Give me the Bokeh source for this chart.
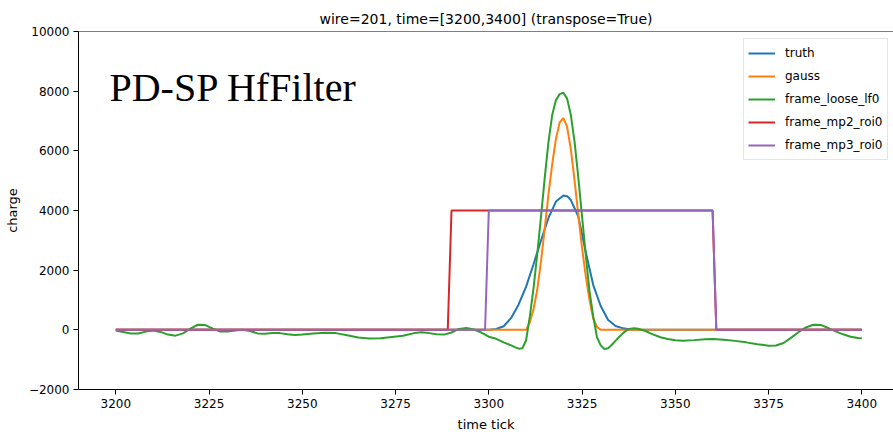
from bokeh.plotting import figure
from bokeh.models import Range1d, Span, Label, FixedTicker
from bokeh.embed import file_html
from bokeh.resources import INLINE

# ---- data ----
truth_t = [3200, 3300, 3302, 3304, 3306, 3308, 3310, 3312, 3314, 3316, 3318, 3320, 3321,
           3322, 3324, 3326, 3328, 3329, 3330, 3332, 3334, 3336, 3338, 3340, 3400]
truth_v = [0, 0, 30, 120, 400, 850, 1450, 2200, 3000, 3750, 4300, 4500, 4480,
           4350, 3800, 2600, 1500, 1150, 800, 330, 130, 50, 15, 0, 0]

gauss_t = [3200, 3310, 3311, 3312, 3313, 3314, 3315, 3316, 3317, 3318, 3319, 3320, 3321,
           3322, 3323, 3324, 3325, 3326, 3327, 3328, 3329, 3330, 3400]
gauss_v = [0, 0, 250, 700, 1350, 2300, 3400, 4550, 5550, 6400, 6950, 7100, 6800,
           6050, 5000, 3850, 2750, 1800, 1000, 380, 100, 0, 0]

loose_t = [3200, 3202, 3204, 3206, 3208, 3210, 3212, 3214, 3216, 3218, 3220, 3222, 3224,
           3226, 3228, 3230, 3232, 3234, 3236, 3238, 3240, 3242, 3244, 3246, 3248, 3250,
           3253, 3256, 3259, 3262, 3265, 3268, 3271, 3274, 3277, 3280, 3282, 3284, 3286,
           3288, 3290, 3292, 3294, 3296, 3298, 3300, 3302, 3304, 3306, 3307, 3308, 3309,
           3310, 3311, 3312, 3313, 3314, 3315, 3316, 3317, 3318, 3319, 3320, 3321, 3322,
           3323, 3324, 3325, 3326, 3327, 3328, 3329, 3330, 3331, 3332, 3333, 3334, 3335,
           3336, 3337, 3338, 3339, 3340, 3342, 3344, 3346, 3348, 3350, 3352, 3355, 3358,
           3360, 3363, 3366, 3369, 3372, 3375, 3377, 3379, 3381, 3383, 3385, 3387, 3389,
           3391, 3393, 3395, 3397, 3399, 3400]
loose_v = [-20, -70, -120, -125, -60, -20, -70, -160, -195, -120, 40, 170, 160,
           40, -55, -60, -20, 0, -40, -120, -130, -105, -110, -150, -170, -160,
           -120, -100, -110, -180, -260, -290, -280, -240, -200, -110, -80, -110, -150,
           -160, -90, 30, 65, 10, -90, -230, -300, -420, -520, -580, -630, -620,
           -350, 450, 1400, 2550, 3800, 5100, 6300, 7200, 7700, 7900, 7950, 7750, 7200,
           6300, 5100, 3800, 2500, 1300, 450, -250, -520, -640, -620, -500, -360, -230,
           -110, -10, 40, 55, 35, -40, -150, -250, -310, -350, -365, -345, -315,
           -310, -330, -370, -420, -480, -530, -525, -440, -270, -80, 80, 170, 165,
           60, -50, -150, -230, -270, -280]

mp2_t = [3200, 3289, 3290, 3360, 3361, 3400]
mp2_v = [0, 0, 4000, 4000, 0, 0]

mp3_t = [3200, 3299, 3300, 3360, 3361, 3400]
mp3_v = [0, 0, 4000, 4000, 0, 0]

x_ticks = [3200, 3225, 3250, 3275, 3300, 3325, 3350, 3375, 3400]
y_ticks = [-2000, 0, 2000, 4000, 6000, 8000, 10000]

FONT = "DejaVu Sans"

p = figure(width=893, height=440, output_backend="svg", toolbar_location=None,
           x_range=Range1d(3190, 3408.5), y_range=Range1d(-2000, 10000),
           min_border_left=78, min_border_right=0, min_border_top=31,
           min_border_bottom=51,
           title="wire=201, time=[3200,3400] (transpose=True)")

p.title.align = "center"
p.title.text_font = FONT
p.title.text_font_size = "14px"
p.title.text_font_style = "normal"
p.title.text_color = "black"

p.outline_line_color = None
p.xgrid.visible = False
p.ygrid.visible = False
p.background_fill_color = "white"
p.border_fill_color = "white"

for ax in (p.xaxis[0], p.yaxis[0]):
    ax.axis_line_color = "black"
    ax.axis_line_width = 1
    ax.major_tick_line_color = "black"
    ax.major_tick_in = 0
    ax.major_tick_out = 5
    ax.minor_tick_line_color = None
    ax.major_label_text_font = FONT
    ax.major_label_text_font_size = "12px"
    ax.major_label_text_color = "black"
    ax.axis_label_text_font = FONT
    ax.axis_label_text_font_size = "13px"
    ax.axis_label_text_font_style = "normal"
    ax.axis_label_text_color = "black"

p.xaxis.ticker = FixedTicker(ticks=x_ticks)
p.yaxis.ticker = FixedTicker(ticks=y_ticks)
p.xaxis.axis_label = "time tick"
p.yaxis.axis_label = "charge"
p.xaxis.major_label_standoff = 4
p.yaxis.major_label_standoff = 4
p.xaxis.axis_label_standoff = 6
p.yaxis.axis_label_standoff = 6

# top spine
p.add_layout(Span(location=10000, dimension="width", line_color="black", line_width=1))

p.line(truth_t, truth_v, line_color="#1f77b4", line_width=2, legend_label="truth")
p.line(gauss_t, gauss_v, line_color="#ff7f0e", line_width=2, legend_label="gauss")
p.line(loose_t, loose_v, line_color="#2ca02c", line_width=2, legend_label="frame_loose_lf0")
p.line(mp2_t, mp2_v, line_color="#d62728", line_width=2, legend_label="frame_mp2_roi0")
p.line(mp3_t, mp3_v, line_color="#9467bd", line_width=2, legend_label="frame_mp3_roi0")

p.add_layout(Label(x=3198.3, y=8130, text="PD-SP HfFilter", text_font="Liberation Serif",
                   text_font_size="40px", text_color="black", text_baseline="alphabetic"))

lg = p.legend[0]
lg.location = (665, 229)
lg.label_text_font = FONT
lg.label_text_font_size = "12px"
lg.label_text_color = "black"
lg.glyph_width = 27
lg.glyph_height = 20
lg.label_height = 20
lg.label_standoff = 10
lg.spacing = 3
lg.padding = 4
lg.margin = 0
lg.border_line_color = "#cccccc"
lg.border_line_width = 1
lg.background_fill_alpha = 0.8

open("out.html", "w").write(file_html(p, INLINE))
